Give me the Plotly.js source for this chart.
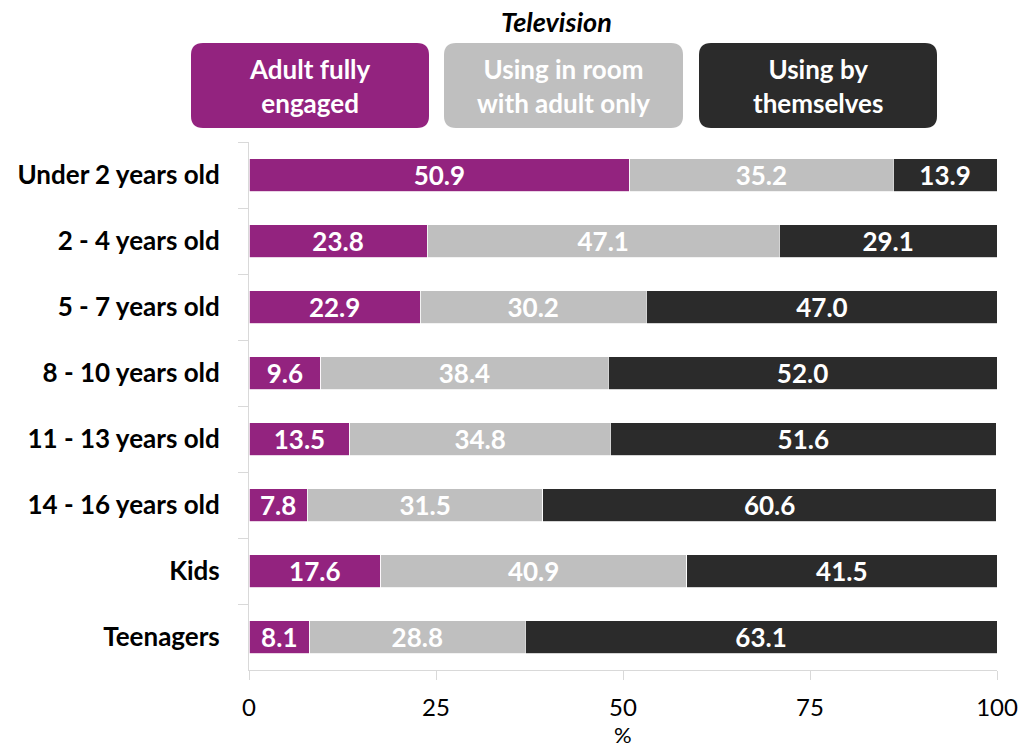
<!DOCTYPE html>
<html>
<head>
<meta charset="utf-8">
<script src="https://cdn.plot.ly/plotly-3.0.1.min.js"></script>
<style>html,body{margin:0;padding:0;background:#fff;}#chart{width:1027px;height:749px;}</style>
</head>
<body>
<div id="chart"></div>
<script>
const categories = ["Under 2 years old", "2 - 4 years old", "5 - 7 years old", "8 - 10 years old", "11 - 13 years old", "14 - 16 years old", "Kids", "Teenagers"];
const adultFullyEngaged = [50.9, 23.8, 22.9, 9.6, 13.5, 7.8, 17.6, 8.1];
const inRoomWithAdult = [35.2, 47.1, 30.2, 38.4, 34.8, 31.5, 40.9, 28.8];
const byThemselves = [13.9, 29.1, 47.0, 52.0, 51.6, 60.6, 41.5, 63.1];
const seriesNames = ["Adult fully<br>engaged", "Using in room<br>with adult only", "Using by<br>themselves"];
const seriesColors = ["#93237f", "#bfbfbf", "#2b2b2b"];
const xTicks = [0, 25, 50, 75, 100];
const chartTitle = "Television";
const xTitle = "%";

const FONT = "Lato, 'Open Sans', sans-serif";
const seriesValues = [adultFullyEngaged, inRoomWithAdult, byThemselves];

const traces = seriesValues.map((vals, i) => ({
  type: "bar",
  orientation: "h",
  y: categories,
  x: vals,
  name: seriesNames[i],
  marker: {color: seriesColors[i], line: {color: "#ffffff", width: 0.8}},
  texttemplate: "<b>%{x:.1f}</b>",
  textposition: "inside",
  insidetextanchor: "middle",
  textangle: 0,
  textfont: {family: FONT, size: 26, color: "#ffffff"},
  constraintext: "none",
  hoverinfo: "skip"
}));

// plot area pixel geometry used to place the legend boxes in paper units
const L = 249, R = 997, T = 142, B = 670;
const W = R - L, H = B - T;
function px(x) { return (x - L) / W; }
function py(y) { return (B - y) / H; }
function roundRect(x0, y0, x1, y1, r) {
  const a = px(x0), b = px(x1), c = py(y0), d = py(y1);
  const rx = r / W, ry = r / H;
  return `M ${a + rx} ${c} L ${b - rx} ${c} Q ${b} ${c} ${b} ${c - ry} L ${b} ${d + ry} Q ${b} ${d} ${b - rx} ${d} L ${a + rx} ${d} Q ${a} ${d} ${a} ${d + ry} L ${a} ${c - ry} Q ${a} ${c} ${a + rx} ${c} Z`;
}
const boxes = [[191, 43, 429, 128], [444, 43, 683, 128], [699, 43, 937, 128]];
const shapes = boxes.map((bx, i) => ({
  type: "path", xref: "paper", yref: "paper",
  path: roundRect(bx[0], bx[1], bx[2], bx[3], 12),
  fillcolor: seriesColors[i], line: {width: 0}, layer: "above"
}));
const annotations = boxes.map((bx, i) => ({
  xref: "paper", yref: "paper",
  x: px((bx[0] + bx[2]) / 2), y: py((bx[1] + bx[3]) / 2),
  text: "<b>" + seriesNames[i] + "</b>",
  showarrow: false, xanchor: "center", yanchor: "middle",
  font: {family: FONT, size: 26, color: "#ffffff"}
}));
annotations.push({
  xref: "paper", yref: "paper", x: px(556), y: py(22),
  text: "<b><i>" + chartTitle + "</i></b>", showarrow: false,
  xanchor: "center", yanchor: "middle",
  font: {family: FONT, size: 27, color: "#000000"}
});
annotations.push({
  xref: "paper", yref: "paper", x: 0.5, y: py(734),
  text: xTitle, showarrow: false,
  xanchor: "center", yanchor: "middle",
  font: {family: FONT, size: 22, color: "#000000"}
});

const layout = {
  width: 1027, height: 749,
  margin: {l: L, r: 1027 - R, t: T, b: 749 - B},
  paper_bgcolor: "#ffffff", plot_bgcolor: "#ffffff",
  barmode: "stack", bargap: 0.5,
  showlegend: false,
  font: {family: FONT, size: 24, color: "#000000"},
  xaxis: {
    range: [0, 100], tickvals: xTicks, ticktext: xTicks.map(String),
    showgrid: false, zeroline: false, showline: true, linecolor: "#d9d9d9", linewidth: 1,
    ticks: "outside", ticklen: 9, tickcolor: "#d9d9d9", tickwidth: 1,
    tickfont: {family: FONT, size: 24, color: "#000000"},
    ticklabelstandoff: 7,
    fixedrange: true
  },
  yaxis: {
    type: "category", autorange: "reversed",
    showgrid: false, zeroline: false, showline: true, linecolor: "#d9d9d9", linewidth: 1,
    ticks: "outside", ticklen: 10, tickcolor: "#d9d9d9", tickwidth: 1, tickson: "boundaries",
    tickfont: {family: FONT, size: 26, color: "#000000"},
    ticklabelstandoff: 23,
    tickprefix: "<b>", ticksuffix: "</b>",
    fixedrange: true
  },
  shapes: shapes,
  annotations: annotations
};

Plotly.newPlot("chart", traces, layout, {displayModeBar: false, staticPlot: true});
</script>
</body>
</html>
